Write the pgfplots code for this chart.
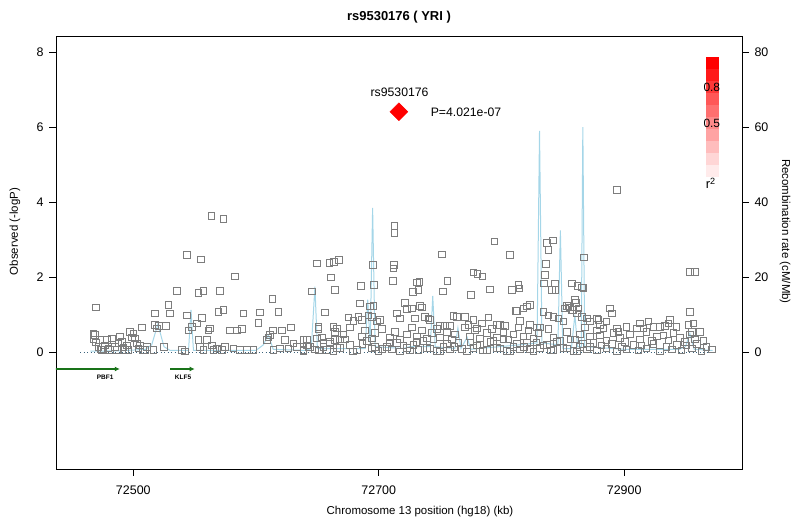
\documentclass[border=0pt]{standalone}
\usepackage{fontspec}
\setmainfont{Liberation Sans}
\usepackage{pgfplots}
\usepackage{pgfplotstable}
\pgfplotsset{compat=1.18}
\usetikzlibrary{arrows.meta}

\definecolor{snpgrey}{RGB}{125,125,125}
\definecolor{recomb}{RGB}{165,214,232}
\definecolor{genegreen}{RGB}{25,115,25}
\definecolor{baseblue}{RGB}{60,100,125}
\newcommand\tickf{\fontsize{12.5}{14}\selectfont}
\newcommand\labf{\fontsize{11.5}{13}\selectfont}

% SNPs: position (kb), -log10 P
\pgfplotstableread{
x y
72469.6 1.20
72467.5 0.51
72468.8 0.46
72467.5 0.35
72469.6 0.26
72471.5 0.15
72473.4 0.08
72477.0 0.19
72475.6 0.06
72482.4 0.37
72479.7 0.11
72485.1 0.15
72486.5 0.06
72489.2 0.42
72490.5 0.28
72491.9 0.13
72493.3 0.06
72494.6 0.19
72497.3 0.55
72498.7 0.40
72500.0 0.51
72501.4 0.37
72502.8 0.24
72504.1 0.11
72505.5 0.19
72506.8 0.67
72507.7 0.06
72509.6 0.06
72510.9 0.15
72478.3 0.33
72487.8 0.24
72496.0 0.06
72481.0 0.06
72472.9 0.33
72474.2 0.06
72517.7 1.04
72517.7 0.73
72519.1 0.64
72521.0 0.70
72526.7 0.70
72528.6 1.26
72529.9 1.04
72525.0 0.15
72516.3 0.06
72539.4 0.06
72542.1 0.02
72543.5 2.59
72555.2 2.48
72563.5 3.63
72573.5 3.55
72535.4 1.64
72553.0 1.59
72557.1 1.64
72570.7 1.64
72543.5 0.98
72544.9 0.59
72547.6 0.68
72551.7 0.77
72555.7 0.92
72553.0 0.33
72554.4 0.15
72557.1 0.06
72561.2 0.59
72562.5 0.64
72559.8 0.33
72563.9 0.19
72565.2 0.06
72569.3 1.08
72573.4 1.13
72567.9 0.11
72572.0 0.06
72574.7 0.15
72578.8 0.59
72584.2 0.58
72588.3 0.62
72582.9 2.02
72581.5 0.11
72587.0 0.06
72589.7 1.04
72592.4 0.06
72597.8 0.06
72601.9 0.79
72603.3 1.06
72608.7 0.33
72610.0 0.40
72611.4 0.46
72613.6 0.58
72613.3 1.43
72614.1 0.06
72618.2 1.08
72619.6 0.11
72620.9 0.59
72623.6 0.33
72626.3 0.11
72628.2 0.67
72630.4 0.24
72633.1 0.15
72638.6 0.06
72641.3 0.33
72644.0 0.15
72649.4 0.37
72650.8 0.68
72654.9 0.15
72657.6 0.06
72660.3 0.24
72664.4 0.33
72663.0 0.68
72665.7 0.64
72638.5 0.33
72656.2 1.06
72675.2 0.93
72679.3 0.84
72683.3 0.95
72686.0 0.86
72691.5 0.99
72692.8 1.22
72694.2 0.95
72695.6 1.23
72698.3 0.82
72701.0 0.86
72714.6 1.04
72717.3 0.91
72721.4 1.32
72722.7 1.15
72726.8 1.17
72729.5 0.91
72733.6 1.23
72734.9 1.20
72737.7 0.95
72740.4 0.91
72741.7 0.86
72749.9 0.70
72754.0 0.70
72758.0 0.70
72760.7 0.97
72763.5 0.95
72770.2 0.95
72773.0 0.73
72777.0 0.86
72779.7 0.64
72783.8 0.77
72789.3 0.93
72796.0 0.73
72798.8 0.73
72802.8 0.70
72812.3 1.11
72815.1 0.84
72817.8 1.17
72820.5 1.22
72823.2 1.26
72823.2 0.73
72828.6 0.67
72831.4 0.67
72834.1 1.08
72838.1 0.99
72842.2 0.95
72846.3 0.91
72850.4 0.82
72851.7 1.17
72854.4 1.23
72857.2 1.13
72859.9 1.39
72861.2 1.04
72862.6 1.17
72865.3 0.95
72869.4 0.91
72872.1 0.82
72877.5 0.91
72649.4 2.37
72659.7 2.39
72663.5 2.41
72667.6 2.46
72660.8 2.00
72664.3 1.66
72645.6 1.62
72695.0 2.33
72696.1 1.79
72712.7 3.37
72712.7 3.19
72712.4 2.33
72711.8 2.24
72711.3 1.91
72685.5 1.77
72684.7 1.30
72733.0 1.88
72730.9 1.86
72727.6 1.61
72732.2 1.66
72751.2 2.61
72755.8 1.90
72752.0 1.62
72794.1 2.96
72777.0 2.13
72780.3 2.09
72784.4 2.02
72790.6 1.68
72775.1 1.53
72806.9 2.59
72808.3 1.66
72813.7 1.79
72814.5 1.70
72811.8 1.10
72836.8 2.92
72841.7 2.98
72838.1 2.73
72836.2 2.35
72835.4 2.06
72834.3 1.84
72840.9 1.66
72843.8 1.66
72843.6 1.84
72857.2 1.84
72861.8 1.77
72865.3 1.73
72866.7 1.71
72867.2 2.53
72853.1 1.23
72855.8 1.20
72858.0 1.13
72860.7 1.32
72638.5 0.04
72642.6 0.15
72648.0 0.08
72654.8 0.25
72663.0 0.02
72668.4 0.12
72676.5 0.20
72682.0 0.06
72690.1 0.30
72694.2 0.10
72699.6 0.04
72706.4 0.15
72710.5 0.08
72714.6 0.25
72717.3 0.02
72722.7 0.12
72728.1 0.20
72732.2 0.06
72736.3 0.30
72741.7 0.10
72747.2 0.04
72752.6 0.15
72758.0 0.08
72764.8 0.25
72771.6 0.02
72777.0 0.12
72782.5 0.20
72787.9 0.06
72793.3 0.30
72798.8 0.10
72804.2 0.04
72809.6 0.15
72815.1 0.08
72820.5 0.25
72825.9 0.02
72831.4 0.12
72836.8 0.20
72842.2 0.06
72847.6 0.30
72853.1 0.10
72858.5 0.04
72863.9 0.15
72869.4 0.08
72874.8 0.25
72641.2 0.18
72651.0 0.05
72660.0 0.28
72666.0 0.12
72672.5 0.35
72679.0 0.03
72686.5 0.22
72697.0 0.14
72703.0 0.09
72708.5 0.26
72720.0 0.18
72725.5 0.05
72730.5 0.28
72739.0 0.12
72744.5 0.35
72750.0 0.03
72755.5 0.22
72761.5 0.14
72767.5 0.09
72774.5 0.26
72780.0 0.18
72785.0 0.05
72791.0 0.28
72796.0 0.12
72801.5 0.35
72807.0 0.03
72812.5 0.22
72818.0 0.14
72823.0 0.09
72828.5 0.26
72834.0 0.18
72840.0 0.05
72845.0 0.28
72850.5 0.12
72856.0 0.35
72861.5 0.03
72866.5 0.22
72872.0 0.14
72650.7 0.62
72653.5 0.40
72664.3 0.55
72668.4 0.35
72671.1 0.48
72676.5 0.66
72686.0 0.42
72688.8 0.58
72694.2 0.37
72696.9 0.52
72702.3 0.62
72709.1 0.40
72713.2 0.55
72717.3 0.35
72722.7 0.48
72726.8 0.66
72730.9 0.42
72734.9 0.58
72739.0 0.37
72743.1 0.52
72747.2 0.62
72749.9 0.40
72755.3 0.55
72759.4 0.35
72762.1 0.48
72770.2 0.66
72774.3 0.42
72778.4 0.58
72782.5 0.37
72787.9 0.52
72792.0 0.62
72796.0 0.40
72801.5 0.55
72805.5 0.35
72809.6 0.48
72813.7 0.66
72817.8 0.42
72821.8 0.58
72825.9 0.37
72830.0 0.52
72838.1 0.62
72842.2 0.40
72853.1 0.55
72859.9 0.35
72864.0 0.48
72868.0 0.66
72872.1 0.42
72877.5 0.58
72878.8 0.86
72880.2 0.73
72885.6 0.82
72888.3 1.17
72889.7 1.04
72882.9 0.64
72893.8 0.64
72895.1 0.55
72901.9 0.68
72912.8 0.77
72919.6 0.82
72915.5 0.64
72910.1 0.64
72923.6 0.68
72929.1 0.68
72933.1 0.70
72937.2 0.86
72935.9 0.77
72942.6 0.68
72952.2 0.73
72956.2 0.77
72880.2 0.45
72885.6 0.32
72891.0 0.52
72896.5 0.38
72900.6 0.28
72904.6 0.48
72912.8 0.35
72918.2 0.55
72922.3 0.30
72926.4 0.42
72931.8 0.45
72935.9 0.32
72940.0 0.52
72945.4 0.38
72949.4 0.28
72953.5 0.48
72957.6 0.35
72961.7 0.55
72964.4 0.30
72877.5 0.05
72881.5 0.18
72885.6 0.10
72889.7 0.22
72893.8 0.03
72897.9 0.14
72901.9 0.08
72907.3 0.20
72911.4 0.05
72914.1 0.18
72918.2 0.10
72923.6 0.22
72929.1 0.03
72934.5 0.14
72938.6 0.08
72942.7 0.20
72946.7 0.05
72950.8 0.18
72954.9 0.10
72959.0 0.22
72963.0 0.03
72967.1 0.14
72971.5 0.08
72953.5 2.15
72957.6 2.15
72953.5 1.08
72954.9 0.55
72893.8 4.33
}\snps

% recombination rate (cM/Mb)
\pgfplotstableread{
x r
72465 0.3
72490 0.4
72510 0.8
72515 2
72520 7.5
72525 1.5
72530 0.5
72545 0.5
72547 11.3
72549 0.5
72600 0.5
72606 2
72610 4.6
72614 0.8
72640 0.5
72645 1
72648 17.5
72650 1
72689 1
72691 14
72693 2
72695 38.5
72697 1.5
72720 1
72725 1.5
72742 1.5
72744 15
72746 1.5
72762 1
72764.5 6.5
72767 1
72772 4
72775 0.8
72815 2
72829 2.5
72831 59
72833 2.5
72846 2
72848 32.5
72850 1
72857 1
72859.8 10
72862 1.5
72865 1.5
72866.3 60
72867.8 1.5
72900 0.8
72945 0.8
72950 1.5
72953.5 5
72957 0.8
72972 0.5
}\recomb

\begin{document}
\begin{tikzpicture}
% right axis: recombination rate
\begin{axis}[
  name=rec,
  scale only axis, width=686bp, height=433bp,
  xmin=72437, xmax=72996, ymin=-31.1, ymax=84.3,
  axis x line=none, axis y line*=right,
  ytick={0,20,40,60,80},
  tick align=outside, major tick length=7bp,
  axis line style={line width=0.8bp},
  every tick/.style={black, line width=0.8bp},
  ticklabel style={font=\tickf},
  yticklabel style={xshift=2bp},
  /pgf/number format/assume math mode=true,
  ylabel={Recombination rate (cM/Mb)},
  every axis y label/.style={at={(rel axis cs:1,0.5)}, xshift=43bp, yshift=21bp, rotate=-90, anchor=center, font=\labf},
]
\addplot[recomb, line width=1bp] table[x=x, y=r] {\recomb};
\end{axis}
% main axis
\begin{axis}[
  name=main,
  scale only axis, width=686bp, height=433bp,
  xmin=72437, xmax=72996, ymin=-3.11, ymax=8.43,
  xtick={72500,72700,72900}, ytick={0,2,4,6,8},
  xtick pos=left, ytick pos=left,
  tick align=outside, major tick length=7bp,
  scaled x ticks=false,
  /pgf/number format/1000 sep={},
  /pgf/number format/assume math mode=true,
  axis line style={line width=0.8bp},
  every tick/.style={black, line width=0.8bp},
  ticklabel style={font=\tickf},
  xticklabel style={yshift=-6bp},
  yticklabel style={xshift=-2bp},
  xlabel={Chromosome 13 position (hg18) (kb)},
  ylabel={Observed (-logP)},
  title={rs9530176 ( YRI )},
  every axis x label/.style={at={(rel axis cs:0.5,0)}, xshift=21bp, yshift=-43bp, anchor=center, font=\labf},
  every axis y label/.style={at={(rel axis cs:0,0.5)}, xshift=-41bp, yshift=21bp, rotate=90, anchor=center, font=\labf},
  every axis title/.style={at={(rel axis cs:0.5,1)}, yshift=19bp, anchor=center, font=\bfseries\fontsize{13}{15}\selectfont},
  clip=true,
]
% baseline
\addplot[baseblue, line width=1.1bp, dash pattern=on 1.1bp off 2.4bp] coordinates {(72456.6,0) (72974,0)};
% SNPs
\addplot[only marks, mark=square, mark size=3.3bp, mark options={draw=snpgrey, line width=0.7bp}] table[x=x, y=y] {\snps};
% index SNP
\addplot[only marks, mark=square*, mark size=6.3bp, mark options={rotate=45, fill=red, draw=red}] coordinates {(72716.4,6.41)};
\node[font=\fontsize{12.3}{14}\selectfont] at (axis cs:72717,6.93) {rs9530176};
\node[font=\fontsize{12.3}{14}\selectfont, anchor=west] at (axis cs:72739.5,6.41) {P=4.021e-07};
% genes
\addplot[genegreen, line width=2bp, -{Latex[length=5bp,width=5bp]}] coordinates {(72420,-0.445) (72489,-0.445)};
\addplot[genegreen, line width=2bp, -{Latex[length=5bp,width=5bp]}] coordinates {(72530,-0.445) (72550,-0.445)};
\node[font=\bfseries\fontsize{6.5}{7}\selectfont] at (axis cs:72477,-0.67) {PBF1};
\node[font=\bfseries\fontsize{6.5}{7}\selectfont] at (axis cs:72540.5,-0.67) {KLF5};
% r^2 colour key
\fill[red!8!white]  (axis cs:72966.5,4.675) rectangle (axis cs:72977.1,4.995);
\fill[red!16!white] (axis cs:72966.5,4.995) rectangle (axis cs:72977.1,5.315);
\fill[red!26!white] (axis cs:72966.5,5.315) rectangle (axis cs:72977.1,5.635);
\fill[red!36!white] (axis cs:72966.5,5.635) rectangle (axis cs:72977.1,5.955);
\fill[red!46!white] (axis cs:72966.5,5.955) rectangle (axis cs:72977.1,6.275);
\fill[red!56!white] (axis cs:72966.5,6.275) rectangle (axis cs:72977.1,6.595);
\fill[red!66!white] (axis cs:72966.5,6.595) rectangle (axis cs:72977.1,6.915);
\fill[red!78!white] (axis cs:72966.5,6.915) rectangle (axis cs:72977.1,7.235);
\fill[red!90!white] (axis cs:72966.5,7.235) rectangle (axis cs:72977.1,7.555);
\fill[red]          (axis cs:72966.5,7.555) rectangle (axis cs:72977.1,7.875);
\node[font=\fontsize{12}{14}\selectfont] at (axis cs:72971.4,7.05) {0.8};
\node[font=\fontsize{12}{14}\selectfont] at (axis cs:72971.4,6.11) {0.5};
\node[font=\fontsize{13}{14}\selectfont] at (axis cs:72970.6,4.51) {r\textsuperscript{2}};
\end{axis}
\pgfresetboundingbox
\path[use as bounding box] ([xshift=-56bp,yshift=-61bp]main.south west) rectangle ([xshift=58bp,yshift=36bp]main.north east);
\end{tikzpicture}
\end{document}
